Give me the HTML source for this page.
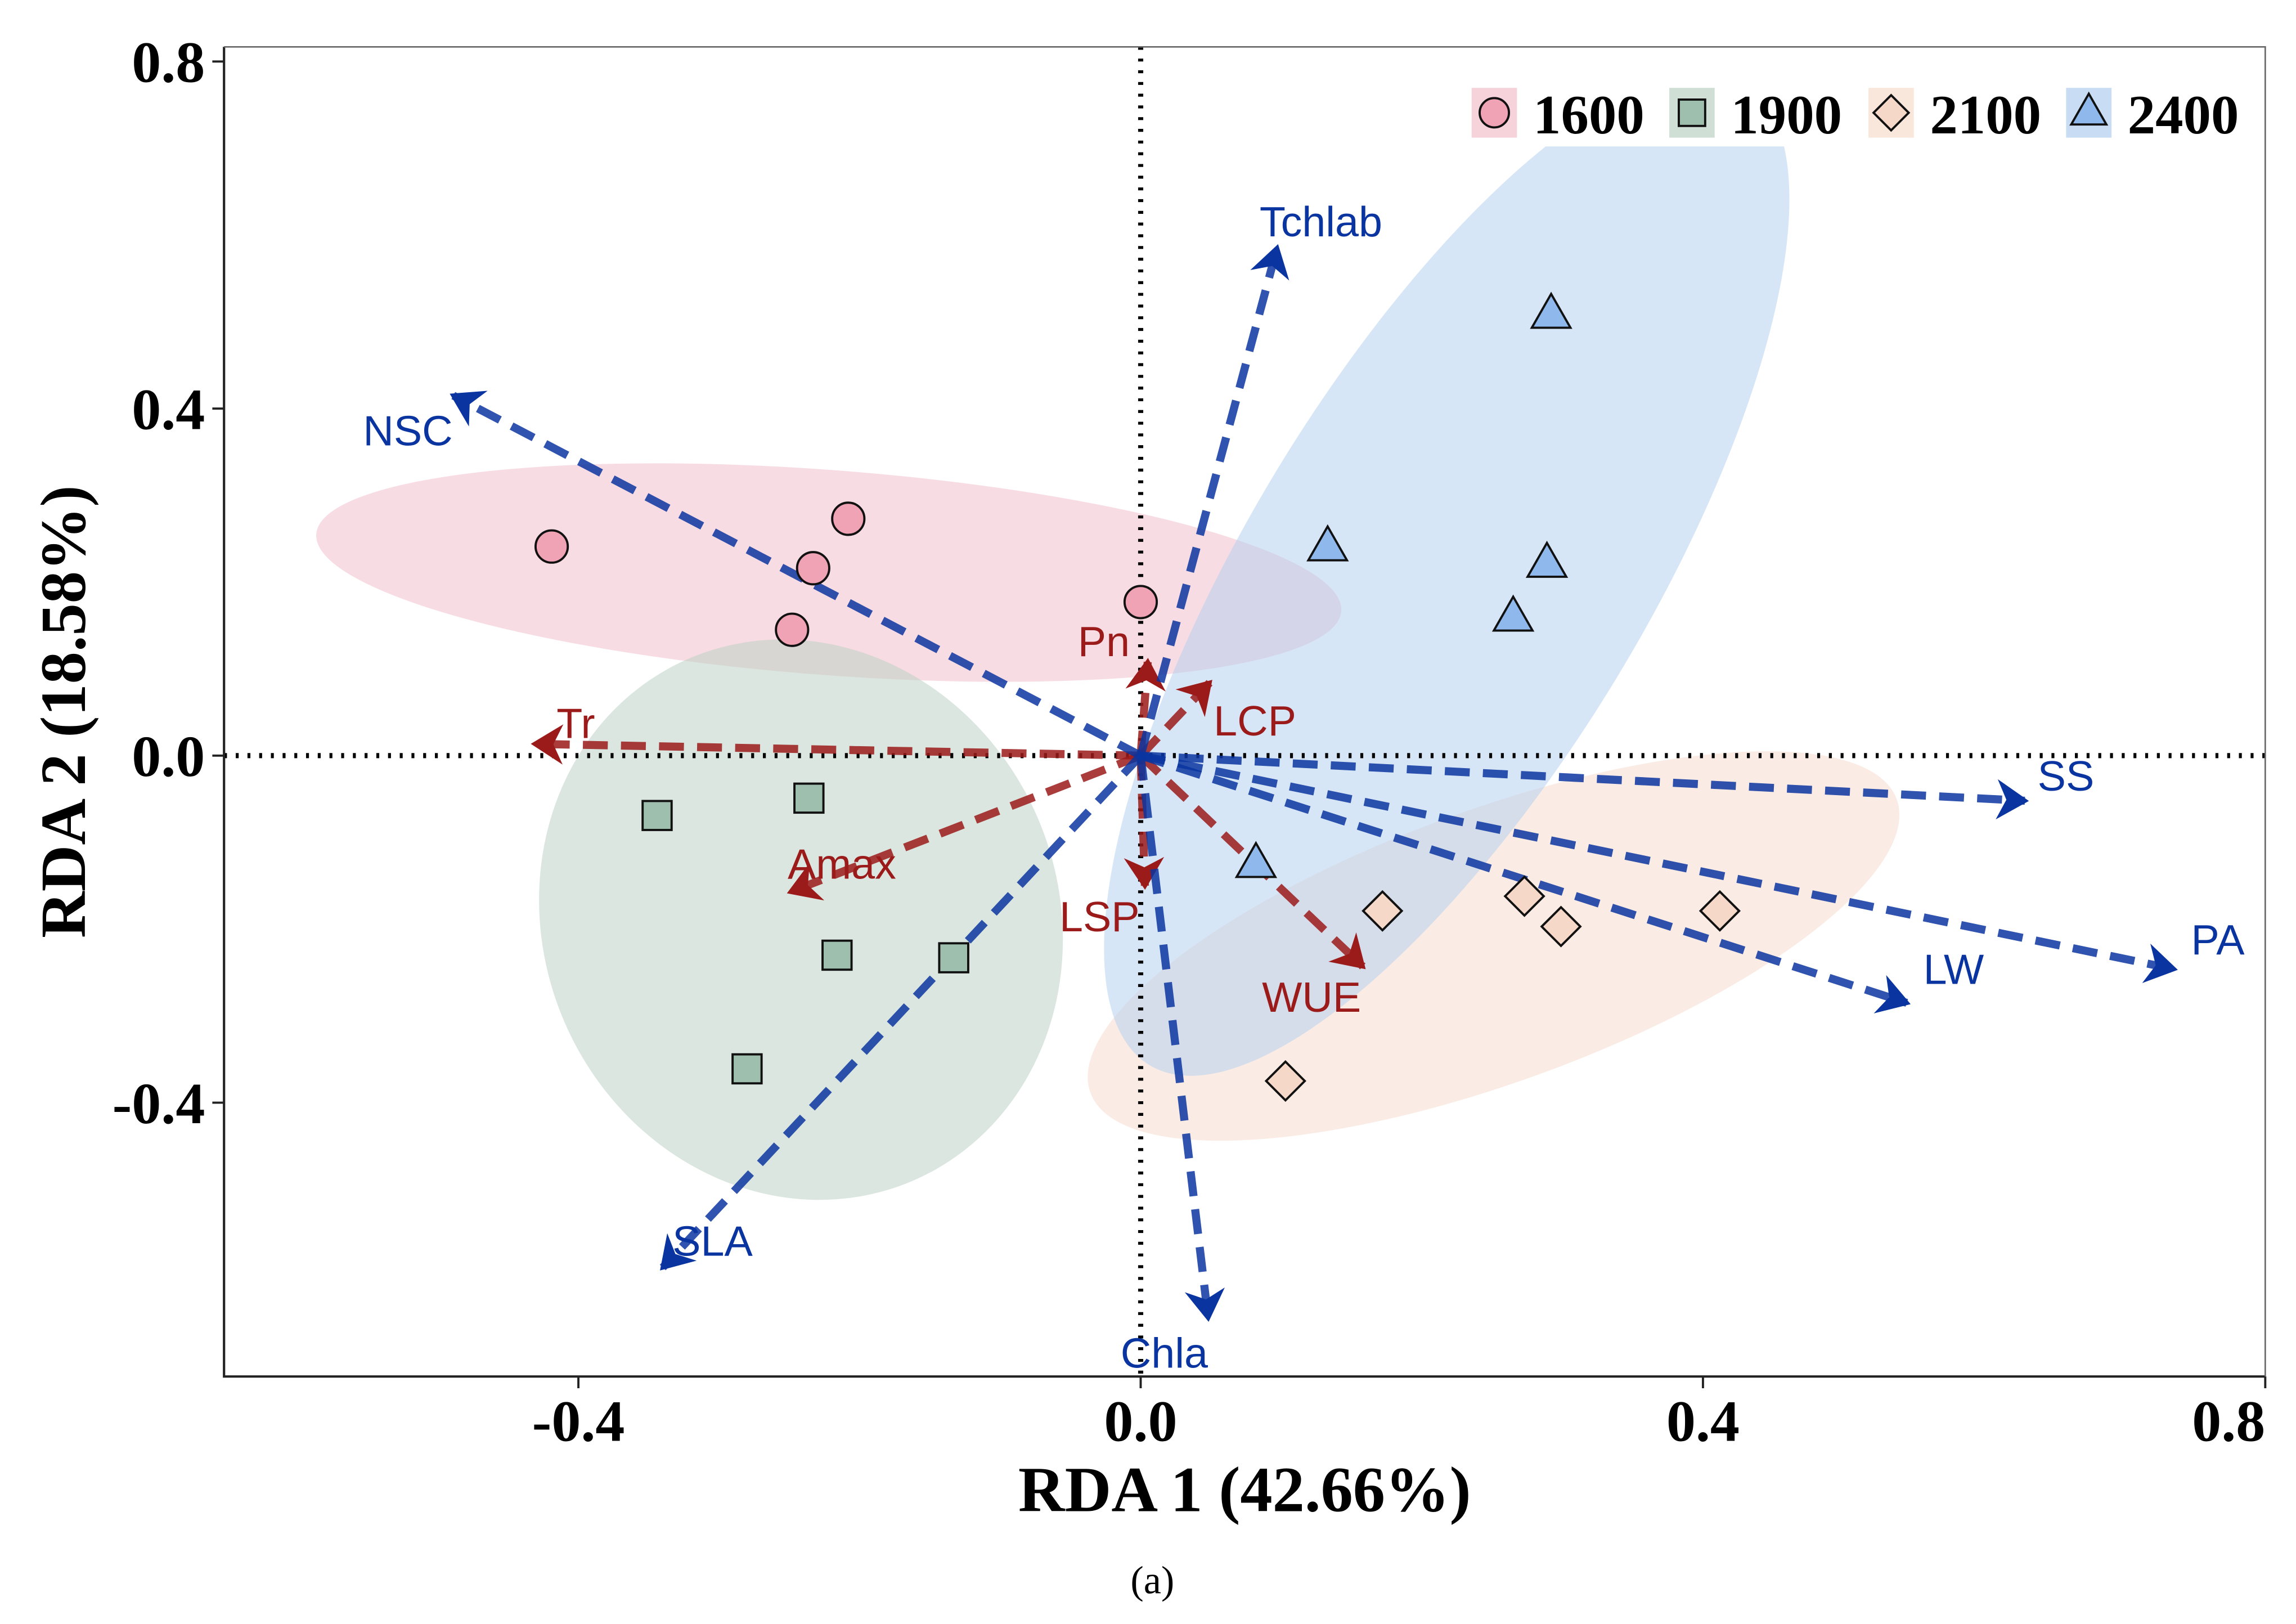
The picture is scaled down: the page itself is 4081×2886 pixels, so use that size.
<!DOCTYPE html>
<html><head><meta charset="utf-8"><style>
html,body{margin:0;padding:0;background:#fff;}
svg{display:block;}
</style></head><body>
<svg id="chart" width="4081" height="2886" viewBox="0 0 1568 1109" preserveAspectRatio="none" xmlns="http://www.w3.org/2000/svg">
<defs>
<clipPath id="plotclip"><rect x="153" y="100" width="1394" height="840"/></clipPath>
<marker id="ab" markerWidth="5" markerHeight="5" refX="3.5" refY="2.5" orient="auto" markerUnits="strokeWidth"><path d="M0,0 L4,2.5 L0,5 L1.2,2.5 z" fill="#0a35a0"/></marker>
<marker id="ar" markerWidth="5" markerHeight="5" refX="3.5" refY="2.5" orient="auto" markerUnits="strokeWidth"><path d="M0,0 L4,2.5 L0,5 L1.2,2.5 z" fill="#9b1a1a"/></marker>
</defs>
<g id="ell" clip-path="url(#plotclip)"></g>
<g id="ref"></g>
<g id="arr"></g>
<g id="pts"></g>
<g id="axes"></g>
<g id="leg"></g>
</svg>
<script>
const groups=['1600','1900','2100','2400'];
const ptX1600=[-0.419,-0.208,-0.233,-0.248,0.0];
const ptY1600=[0.241,0.273,0.216,0.145,0.177];
const ptX1900=[-0.344,-0.236,-0.216,-0.133,-0.280];
const ptY1900=[-0.069,-0.049,-0.230,-0.233,-0.361];
const ptX2100=[0.172,0.273,0.299,0.412,0.103];
const ptY2100=[-0.179,-0.162,-0.197,-0.179,-0.375];
const ptX2400=[0.292,0.133,0.289,0.265,0.082];
const ptY2400=[0.508,0.240,0.221,0.159,-0.125];
const blueNames=['NSC','Tchlab','SS','PA','LW','Chla','SLA'];
const blueX=[-0.489,0.097,0.629,0.735,0.545,0.048,-0.340];
const blueY=[0.415,0.585,-0.052,-0.246,-0.285,-0.648,-0.590];
const redNames=['Tr','Amax','Pn','LCP','LSP','WUE'];
const redX=[-0.431,-0.249,0.005,0.049,0.003,0.158];
const redY=[0.0135,-0.157,0.108,0.084,-0.150,-0.243];
const xTicks=[-0.4,0.0,0.4,0.8];
const yTicks=[-0.4,0.0,0.4,0.8];

const NS='http://www.w3.org/2000/svg';
const X=v=>779+960*v, Y=v=>516-592.5*v;
function mk(tag,attrs,parent){const e=document.createElementNS(NS,tag);for(const k in attrs)e.setAttribute(k,attrs[k]);parent.appendChild(e);return e;}
const ell=document.getElementById('ell'),ref=document.getElementById('ref'),arr=document.getElementById('arr'),pts=document.getElementById('pts'),axes=document.getElementById('axes'),leg=document.getElementById('leg');
const fills={'1600':'#f0a3b4','1900':'#9fbfae','2100':'#f5d8c8','2400':'#8fb9ec'};
const ellFill={'1600':'#f2c0cc','1900':'#bcd2c4','2100':'#f6ddcd','2400':'#b0cdf0'};
const ellDefs={'1600':[566,391,351,70,4.3],'1900':[547,628,194,176,67],'2100':[1020,646,293,93,-20],'2400':[988,392,392,136,-58.8]};
groups.forEach(g=>{const d=ellDefs[g];
const e=mk('ellipse',{cx:d[0],cy:d[1],rx:d[2],ry:d[3],transform:`rotate(${d[4]} ${d[0]} ${d[1]})`,fill:ellFill[g],'fill-opacity':g==='2400'?0.5:0.55},ell);

});
const vl=mk('line',{x1:779,y1:32,x2:779,y2:940,stroke:'#000','stroke-width':3.5,'stroke-dasharray':'2,6'},ref);


const hl=mk('line',{x1:153,y1:516,x2:1547,y2:516,stroke:'#000','stroke-width':3.5,'stroke-dasharray':'2,6'},ref);


const labOff={NSC:[-31,24],Tchlab:[30,-18],SS:[28,-17],PA:[30,-20],LW:[32,-23],Chla:[-30,24],SLA:[34,-18],Tr:[28,-14],Amax:[35,-19],Pn:[-30,-14],LCP:[31,26],LSP:[-31,21],WUE:[-35,21]};
function drawArrows(names,xs,ys,col,mid){names.forEach((n,i)=>{
const l=mk('line',{x1:X(0),y1:Y(0),x2:X(xs[i]),y2:Y(ys[i]),stroke:col,'stroke-width':5.5,'stroke-dasharray':'17,9','marker-end':`url(#${mid})`,'stroke-opacity':0.85},arr);


const o=labOff[n];
const t=mk('text',{x:X(xs[i])+o[0],y:Y(ys[i])+o[1]+10,'text-anchor':'middle','font-family':'Liberation Sans, sans-serif','font-size':29,fill:col},arr);
t.textContent=n;

});}
drawArrows(redNames,redX,redY,'#9b1a1a','ar');
drawArrows(blueNames,blueX,blueY,'#0a35a0','ab');
function shape(g,cx,cy,r,parent){let e;
if(g==='1600')e=mk('circle',{cx,cy,r:r},parent);
else if(g==='1900')e=mk('rect',{x:cx-r*0.9,y:cy-r*0.9,width:r*1.8,height:r*1.8},parent);
else if(g==='2100')e=mk('polygon',{points:`${cx},${cy-r*1.2} ${cx+r*1.2},${cy} ${cx},${cy+r*1.2} ${cx-r*1.2},${cy}`},parent);
else e=mk('polygon',{points:`${cx},${cy-r*1.3} ${cx+r*1.2},${cy+r*0.8} ${cx-r*1.2},${cy+r*0.8}`},parent);
e.setAttribute('fill',fills[g]);e.setAttribute('stroke','#111');e.setAttribute('stroke-width',1.5);return e;}
const data={'1600':[ptX1600,ptY1600],'1900':[ptX1900,ptY1900],'2100':[ptX2100,ptY2100],'2400':[ptX2400,ptY2400]};
groups.forEach(g=>{data[g][0].forEach((xv,i)=>{
const e=shape(g,X(xv),Y(data[g][1][i]),11,pts);

});});
const ax=mk('path',{d:'M153,32 V940 H1547',fill:'none',stroke:'#222','stroke-width':1.6},axes);


const bx=mk('path',{d:'M153,32 H1547 V940',fill:'none',stroke:'#666','stroke-width':1},axes);


const tf='Liberation Serif, serif';
xTicks.forEach((v,i)=>{mk('line',{x1:X(v),y1:940,x2:X(v),y2:948,stroke:'#222','stroke-width':1.5},axes);
const last=i===xTicks.length-1;
const t=mk('text',{x:last?1547:X(v),y:984,'text-anchor':last?'end':'middle','font-family':tf,'font-weight':'bold','font-size':40},axes);
t.textContent=v.toFixed(1);

});
yTicks.forEach(v=>{mk('line',{x1:145,y1:Y(v),x2:153,y2:Y(v),stroke:'#222','stroke-width':1.5},axes);
const t=mk('text',{x:140,y:Y(v)+14,'text-anchor':'end','font-family':tf,'font-weight':'bold','font-size':40},axes);
t.textContent=v.toFixed(1);

});
const xt=mk('text',{x:850,y:1032,'text-anchor':'middle','font-family':tf,'font-weight':'bold','font-size':44},axes);
xt.textContent='RDA 1 (42.66%)';


const yt=mk('text',{x:58,y:486,'text-anchor':'middle','font-family':tf,'font-weight':'bold','font-size':44,transform:'rotate(-90 58 486)'},axes);
yt.textContent='RDA 2 (18.58%)';


const cap=mk('text',{x:787,y:1088,'text-anchor':'middle','font-family':tf,'font-size':27},axes);
cap.textContent='(a)';


const legX=[1005,1140,1276,1411];
groups.forEach((g,i)=>{const x0=legX[i];
const b=mk('rect',{x:x0,y:60,width:31,height:34,fill:ellFill[g],'fill-opacity':0.7},leg);


const s=shape(g,x0+15.5,77,10,leg);


const t=mk('text',{x:x0+42,y:91,'font-family':tf,'font-weight':'bold','font-size':38},leg);
t.textContent=g;

});
</script>
</body></html>
